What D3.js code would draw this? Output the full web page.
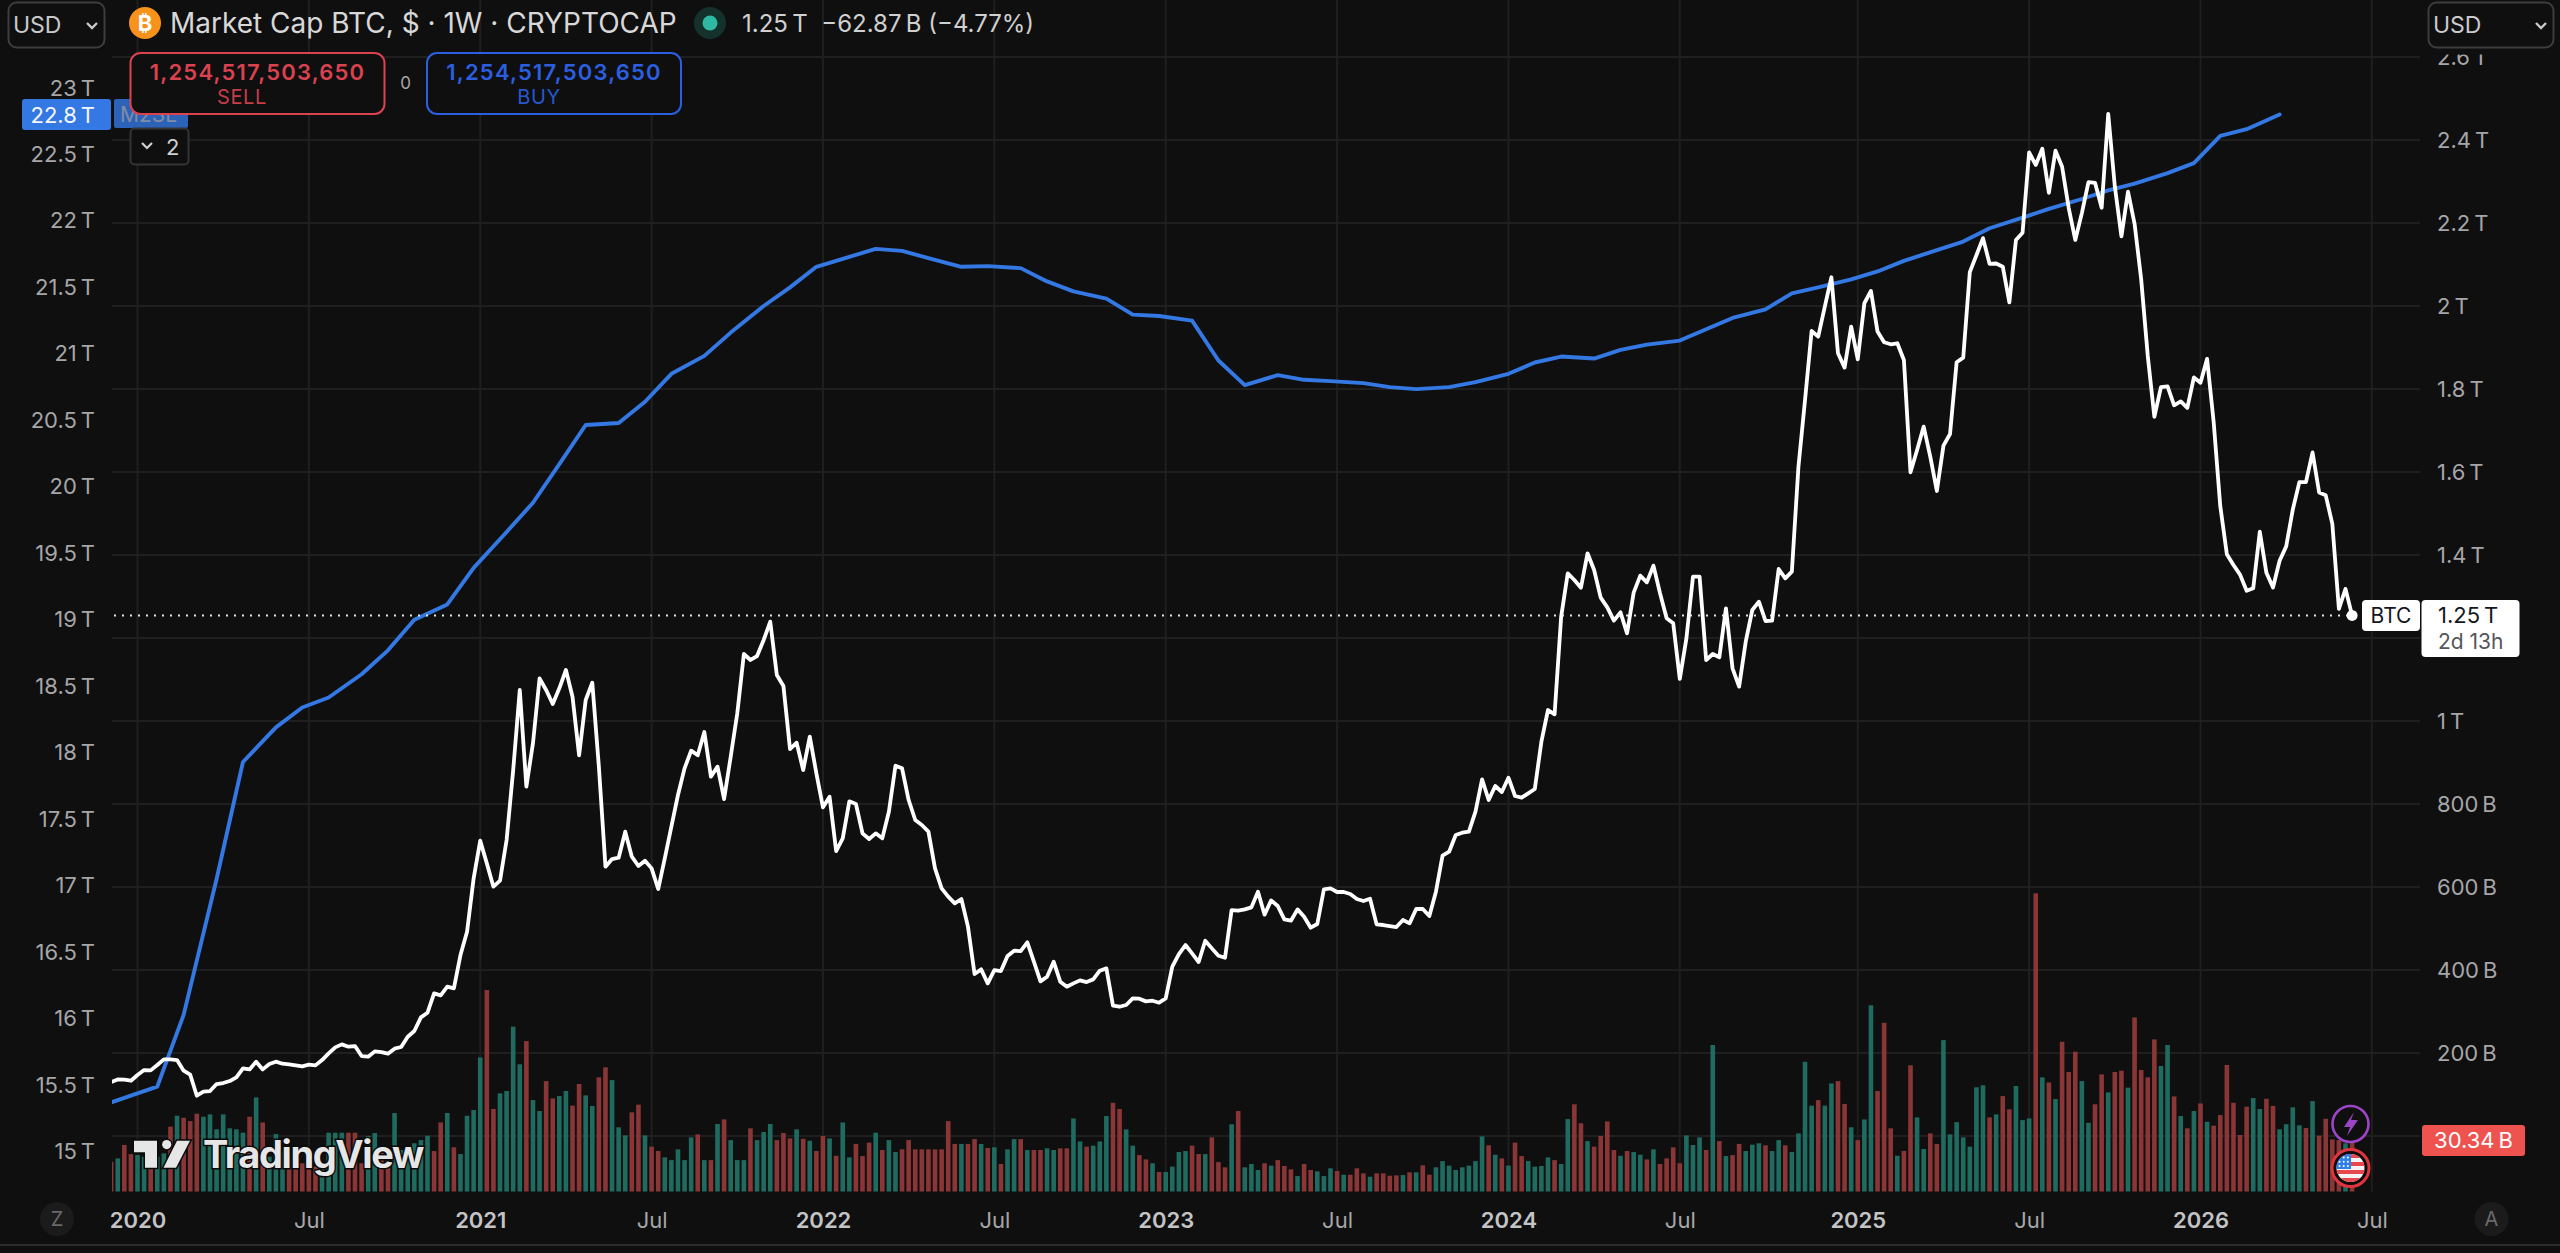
<!DOCTYPE html>
<html>
<head>
<meta charset="utf-8">
<title>Market Cap BTC</title>
<script src="https://cdn.jsdelivr.net/npm/d3@7/dist/d3.min.js"></script>
<style>
  html, body { margin: 0; padding: 0; background: #0f0f10; overflow: hidden; }
  svg { display: block; font-family: Inter, "Noto Sans", sans-serif; }
  text { font-family: Inter, "Noto Sans", sans-serif; }
</style>
</head>
<body>
<div id="chart"></div>
<script>
// Weekly Bitcoin market cap in billions of dollars, first week is 2019-12-09.
const btcCap = [
  130.0,136.4,135.6,133.2,146.9,158.9,158.1,171.0,184.6,184.6,
  183.0,157.3,147.7,97.1,106.7,108.3,125.2,127.6,132.4,141.3,
  163.0,160.5,179.1,160.5,173.4,179.1,174.2,172.6,170.2,167.8,
  171.8,170.2,183.0,199.1,213.6,220.8,215.2,216.8,192.7,191.1,
  203.9,202.3,198.3,210.4,214.4,239.3,252.9,285.9,297.1,343.7,
  338.9,359.8,355.8,436.1,492.3,620.9,711.6,657.0,600.8,615.2,
  713.2,881.9,1074.7,841.8,946.2,1102.8,1074.7,1041.0,1078.7,1122.9,
  1058.6,917.3,1050.6,1092.4,890.0,649.0,667.4,670.6,733.3,673.0,
  650.6,663.4,644.9,595.1,669.0,745.3,821.7,885.9,928.5,917.3,
  973.5,865.9,890.0,812.0,914.0,1018.5,1161.5,1147.0,1156.6,1195.2,
  1239.4,1110.9,1084.3,932.5,947.8,881.9,962.2,874.0,792.0,817.6,
  686.7,717.2,806.4,800.0,729.3,715.6,729.3,717.2,781.5,892.4,
  885.9,809.6,761.4,749.4,733.3,644.9,596.7,576.7,560.6,571.0,
  504.4,390.3,401.5,367.8,399.9,397.5,433.7,446.5,445.7,466.6,
  420.0,372.6,383.8,420.0,371.8,359.8,367.8,375.0,371.0,377.4,
  398.3,403.9,314.0,311.5,315.6,331.6,330.8,324.4,326.0,321.2,
  331.6,408.0,438.5,460.2,440.1,419.2,470.6,452.1,434.4,429.6,
  544.5,542.9,546.1,550.9,588.7,533.3,567.8,554.2,522.0,518.8,
  546.1,528.4,502.0,510.8,594.3,596.7,587.9,587.9,583.1,571.0,
  566.2,571.8,510.0,508.4,506.0,503.5,520.4,512.4,547.0,547.0,
  530.1,588.7,675.4,685.1,725.3,730.9,733.3,781.5,859.4,809.6,
  843.3,828.9,863.4,819.3,815.2,825.7,836.1,950.2,1026.5,1016.1,
  1251.5,1355.9,1339.8,1321.3,1404.1,1364.0,1297.3,1273.9,1241.8,1261.9,
  1211.3,1309.3,1350.3,1334.2,1374.4,1307.7,1247.4,1235.4,1101.3,1199.2,
  1347.9,1347.9,1147.0,1161.5,1153.5,1271.5,1127.0,1082.8,1191.2,1267.5,
  1287.6,1241.0,1241.8,1366.3,1343.8,1359.9,1613.0,1773.6,1939.9,1926.2,
  1998.5,2069.2,1886.1,1851.5,1950.3,1871.6,2006.6,2036.3,1938.3,1912.6,
  1907.8,1910.2,1870.0,1599.3,1653.1,1709.4,1637.1,1554.3,1663.6,1691.7,
  1864.4,1875.6,2081.7,2122.2,2163.5,2101.5,2102.4,2094.7,2008.6,2159.2,
  2176.4,2370.1,2339.9,2378.7,2272.8,2374.4,2335.6,2236.7,2159.2,2223.8,
  2298.6,2296.9,2236.7,2463.0,2288.3,2167.8,2275.4,2198.0,2064.5,1879.5,
  1733.2,1804.6,1806.3,1760.7,1770.2,1754.7,1827.8,1814.9,1872.6,1720.3,
  1518.0,1401.8,1376.0,1352.7,1314.0,1320.0,1456.0,1357.0,1321.7,1386.3,
  1420.7,1509.4,1575.7,1575.7,1647.1,1550.7,1543.8,1475.0,1270.1,1318.3,
  1254.5
];

// Weekly traded volume in billions of dollars, same weeks as btcCap.
const volume = [
  17.8,19.8,27.8,22.4,21.8,20.8,16.9,20.8,22.8,38.7,
  45.2,44.0,42.0,46.4,44.6,46.0,37.1,46.0,37.7,37.1,
  35.1,44.6,56.1,41.2,20.8,34.3,23.8,18.8,19.8,16.9,
  20.8,14.9,16.9,35.1,35.1,35.1,35.1,35.1,16.9,33.1,
  34.9,24.8,20.8,46.8,24.8,24.8,28.8,30.7,33.3,24.2,
  41.2,46.8,26.4,22.4,45.2,48.6,79.9,120.0,49.2,58.5,
  59.9,98.2,75.8,89.6,54.5,48.0,65.8,55.5,56.9,59.9,
  51.2,64.1,57.3,51.0,68.0,74.0,66.4,38.3,33.5,47.2,
  51.8,33.5,26.8,24.2,20.4,18.8,25.2,18.8,32.3,34.1,
  18.8,18.8,40.3,43.0,30.7,18.8,18.8,37.7,30.7,35.5,
  40.3,30.7,34.9,31.7,37.1,31.5,30.3,24.2,33.1,31.7,
  21.4,41.2,20.4,28.4,21.2,29.2,35.1,24.8,30.7,23.6,
  25.2,30.7,25.2,25.2,25.2,25.2,25.2,42.0,28.4,28.4,
  28.4,31.3,28.4,26.0,26.4,16.5,25.2,31.3,31.3,24.8,
  24.8,24.8,25.8,24.8,25.8,25.8,43.6,29.9,26.8,27.4,
  29.9,45.0,52.9,49.2,37.1,27.4,21.8,19.2,16.9,11.7,
  11.7,14.9,23.6,24.2,27.4,22.4,22.4,32.3,17.6,14.5,
  40.1,48.0,14.5,16.5,12.9,16.9,15.5,18.8,15.3,13.3,
  9.3,16.5,12.9,12.1,9.3,13.9,12.3,10.1,10.1,13.9,
  10.9,8.9,10.9,10.9,9.5,9.7,9.9,11.5,11.5,15.7,
  10.1,14.5,18.2,15.5,12.9,14.5,15.5,18.2,32.9,27.6,
  22.0,19.8,15.5,29.2,21.2,18.2,14.9,15.3,20.4,18.8,
  16.5,43.2,52.0,40.7,30.1,26.8,33.1,41.8,24.8,21.4,
  24.2,23.6,22.0,19.2,25.2,16.5,19.8,26.4,16.9,33.5,
  27.8,32.3,24.8,87.3,30.1,21.2,21.8,28.4,24.2,28.0,
  28.8,27.6,24.2,30.7,27.6,23.6,34.7,77.3,51.2,54.5,
  51.2,64.4,65.8,52.2,38.3,30.7,43.0,110.9,59.9,100.5,
  37.7,21.4,24.2,75.2,44.2,25.4,34.7,28.4,90.2,34.1,
  41.4,32.3,26.8,62.1,63.3,44.2,46.0,56.9,49.0,62.9,
  42.6,43.6,177.5,68.0,65.0,55.1,89.2,71.2,83.3,65.8,
  41.0,52.0,69.8,59.1,71.2,72.0,61.9,103.7,72.4,68.0,
  90.6,74.8,87.3,56.7,45.0,37.7,48.0,52.5,41.6,39.3,
  45.6,75.4,52.9,33.7,50.6,55.7,49.2,55.3,51.0,37.1,
  40.1,50.2,39.5,37.9,53.9,33.3,43.4,31.1,30.7,28.8,
  30.34
];

// Candle direction of each volume bar: G closed up, R closed down.
const volumeDirection = (
  "RGRRGGRGGR" + "GRRRGGGGGG" + "GRGRGGGRRR" + "RRGGGGRRRG" +
  "GRRGGGGGGR" + "RGRGGGGRRG" + "GGGRGGRRGG" + "RRGGRRGGGR" +
  "RGRRGGGGGR" + "GRGRGGGRGG" + "GRRRGRGRRG" + "RGGRRRGRGG" +
  "RRRRRRRRRG" + "RRGRGRGGRG" + "RRGGRRGGRG" + "GGRRGGRRGR" +
  "GGGGRRGRRR" + "GRGGGRGRRR" + "GRRGGGRGRR" + "RGRRRRGRGR" +
  "RGGGGGGGGR" + "GRGRRGGGGR" + "GGRRGRRRRG" + "RGGRGRRRRG" +
  "GGRGRGRRGG" + "GRGGRGGGGR" + "GGRRGRGGRR" + "RGRRGGRRGG" +
  "GGGGGRGRRG" + "GGRGRGRRRG" + "GRRGRRGRRR" + "RGGRGRGRGR" +
  "RRRRRGGRRG" + "GGGRGRRRRGR"
).split("");

// US M2 money supply in trillions of dollars, one value per month from 2019-12.
const m2Supply = [
  15.335,
  15.42,15.488,16.028,17.05,17.93,18.19,18.34,18.415,18.59,18.77,19.0,19.115,
  19.39,19.66,19.88,20.17,20.465,20.48,20.64,20.85,20.985,21.16,21.36,21.5,
  21.655,21.73,21.79,21.775,21.72,21.655,21.66,21.645,21.545,21.47,21.415,21.295,
  21.285,21.25,20.95,20.765,20.84,20.805,20.795,20.78,20.75,20.735,20.75,20.787,
  20.85,20.935,20.98,20.965,21.03,21.07,21.1,21.185,21.27,21.335,21.455,21.5,
  21.56,21.62,21.7,21.78,21.845,21.945,22.025,22.09,22.165,22.23,22.28,22.36,
  22.435,22.64,22.69,22.8
];

const leftTicks = [15,15.5,16,16.5,17,17.5,18,18.5,19,19.5,20,20.5,21,21.5,22,22.5,23];
const rightGrid = [0,200,400,600,800,1000,1200,1400,1600,1800,2000,2200,2400,2600];
const rightLabels = [200,400,600,800,1000,1400,1600,1800,2000,2200,2400,2600];
const yearTicks = [2020,2021,2022,2023,2024,2025,2026];
const julyTicks = [2020,2021,2022,2023,2024,2025,2026];

const width = 2560, height = 1253;
const bg = "#0f0f10";
const paneLeft = 112, paneRight = 2420, paneBottom = 1191.7;
const upColor = "#1f6b60", downColor = "#8a3636";
const axisColor = "#a6a6a8";

const firstWeek = new Date(Date.UTC(2019, 11, 9));
const weeks = d3.utcMonday.range(firstWeek, new Date(Date.UTC(2026, 5, 16)));
const months = d3.utcMonth.range(new Date(Date.UTC(2019, 11, 1)), new Date(Date.UTC(2026, 4, 1)));

// Every week has the same width, so the time scale is pinned to two Mondays.
const x = d3.scaleUtc()
  .domain([new Date(Date.UTC(2020, 0, 6)), new Date(Date.UTC(2026, 0, 5))])
  .range([137.5, 2200.5]);
const yCap = d3.scaleLinear().domain([0, 2400]).range([1136, 140]);
const yM2 = d3.scaleLinear().domain([15, 23]).range([1151.5, 88]);
const yVol = d3.scaleLinear().domain([0, 177.3]).range([paneBottom, 893.7]);

const svg = d3.select("#chart").append("svg")
  .attr("width", width).attr("height", height)
  .attr("viewBox", `0 0 ${width} ${height}`);
svg.append("rect").attr("width", width).attr("height", height).attr("fill", bg);

const defs = svg.append("defs");
defs.append("clipPath").attr("id", "pane").append("rect")
  .attr("x", paneLeft).attr("y", 0)
  .attr("width", paneRight - paneLeft).attr("height", paneBottom);
defs.append("clipPath").attr("id", "flagClip").append("circle")
  .attr("cx", 2350.5).attr("cy", 1168).attr("r", 14);

// Grid
const firstMonday = y => d3.utcMonday.ceil(new Date(Date.UTC(y, 0, 1)));
const firstJulyMonday = y => d3.utcMonday.ceil(new Date(Date.UTC(y, 6, 1)));
const timeTicks = yearTicks.map(firstMonday).concat(julyTicks.map(firstJulyMonday));

const grid = svg.append("g").attr("stroke", "#1f1f20").attr("stroke-width", 2);
grid.selectAll("line.v").data(timeTicks).join("line")
  .attr("x1", d => x(d)).attr("x2", d => x(d))
  .attr("y1", 0).attr("y2", paneBottom);
grid.selectAll("line.h").data(rightGrid).join("line")
  .attr("x1", paneLeft).attr("x2", paneRight)
  .attr("y1", d => yCap(d)).attr("y2", d => yCap(d));

// Volume bars
const plot = svg.append("g").attr("clip-path", "url(#pane)");
plot.selectAll("rect.vol").data(volume).join("rect")
  .attr("class", "vol")
  .attr("x", (d, i) => x(weeks[i]) - 2.3)
  .attr("width", 4.6)
  .attr("y", d => yVol(d))
  .attr("height", d => paneBottom - yVol(d))
  .attr("fill", (d, i) => volumeDirection[i] === "G" ? upColor : downColor);

// Axes
function styleAxis(g) {
  g.select(".domain").remove();
  g.selectAll(".tick line").remove();
  g.selectAll("text").attr("fill", axisColor).attr("font-size", 22)
    .attr("font-family", "Inter, 'Noto Sans', sans-serif");
}
const fmtLeft = d => `${d}\u202fT`;
const fmtRight = d => d >= 1000 ? `${d / 1000}\u202fT` : `${d}\u202fB`;

svg.append("g").attr("transform", "translate(95,0)")
  .call(d3.axisLeft(yM2).tickValues(leftTicks).tickFormat(fmtLeft).tickSize(0).tickPadding(0))
  .call(styleAxis);

svg.append("g").attr("transform", "translate(2437,0)")
  .call(d3.axisRight(yCap).tickValues(rightLabels).tickFormat(fmtRight).tickSize(0).tickPadding(0))
  .call(styleAxis);
// The axis label area ends just under the currency selector.
svg.append("rect").attr("x", 2424).attr("y", 0).attr("width", 136).attr("height", 54.5).attr("fill", bg);

const isYear = d => d.getUTCMonth() === 0;
const timeAxis = d3.axisBottom(x).tickValues(timeTicks)
  .tickFormat(d => isYear(d) ? String(d.getUTCFullYear()) : "Jul").tickSize(0).tickPadding(0);
svg.append("g").attr("transform", "translate(0,1212)")
  .call(timeAxis).call(styleAxis)
  .selectAll(".tick text")
  .attr("fill", d => isYear(d) ? "#c4c4c6" : axisColor)
  .attr("font-weight", d => isYear(d) ? 600 : 400);

// Series
const m2Line = d3.line().x((d, i) => x(d3.utcMonday.floor(months[i]))).y(d => yM2(d));
plot.append("path").datum(m2Supply)
  .attr("fill", "none").attr("stroke", "#3478e4").attr("stroke-width", 3.9)
  .attr("stroke-linejoin", "round").attr("stroke-linecap", "round")
  .attr("d", m2Line);

const capLine = d3.line().x((d, i) => x(weeks[i])).y(d => yCap(d));
plot.append("path").datum(btcCap)
  .attr("fill", "none").attr("stroke", "#ffffff").attr("stroke-width", 3.8)
  .attr("stroke-linejoin", "round")
  .attr("d", capLine);

const lastX = x(weeks[weeks.length - 1]);
const lastY = yCap(btcCap[btcCap.length - 1]);
svg.append("line").attr("x1", paneLeft + 2).attr("x2", lastX - 4)
  .attr("y1", lastY).attr("y2", lastY)
  .attr("stroke", "#e8e8e8").attr("stroke-width", 2)
  .attr("stroke-dasharray", "2 6");
svg.append("circle").attr("cx", lastX).attr("cy", lastY).attr("r", 5.5).attr("fill", "#ffffff");

// Watermark
const wm = svg.append("g").attr("fill", "#e6e6e6").attr("stroke", "#0b0b0b").attr("stroke-width", 3)
  .attr("paint-order", "stroke");
wm.append("path").attr("d", "M134 1140.7H157V1167.7H145V1152.3H134Z");
wm.append("circle").attr("cx", 166.7).attr("cy", 1144.6).attr("r", 4.6);
wm.append("path").attr("d", "M177 1140.7H190L176 1167.7H163.5Z");
wm.append("text").attr("x", 203).attr("y", 1168).attr("font-size", 38).attr("font-weight", 700)
  .attr("letter-spacing", -1.4).text("TradingView");

// Header: selector, symbol and last values
function selector(left, w) {
  const g = svg.append("g");
  g.append("rect").attr("x", left + 0.5).attr("y", 2.5).attr("width", w).attr("height", 45).attr("rx", 8)
    .attr("fill", bg).attr("stroke", "#3d3d3f").attr("stroke-width", 2);
  g.append("text").attr("x", left + 5).attr("y", 33).attr("font-size", 23).attr("fill", "#c9c9cb").text("USD");
  g.append("path").attr("d", `M${left + w - 17} 23l5 5l5 -5`).attr("fill", "none")
    .attr("stroke", "#c9c9cb").attr("stroke-width", 2.4);
}
selector(8, 96);
selector(2428, 125);

const head = svg.append("g");
head.append("circle").attr("cx", 145).attr("cy", 23).attr("r", 16).attr("fill", "#f7931a");
head.append("text").attr("x", 145).attr("y", 31).attr("text-anchor", "middle").attr("font-size", 22)
  .attr("font-weight", 700).attr("fill", "#fff").attr("font-family", "'DejaVu Sans', sans-serif").text("\u20bf");
head.append("text").attr("x", 170).attr("y", 33).attr("font-size", 28).attr("fill", "#d8d8d9")
  .text("Market Cap BTC, $ \u00b7 1W \u00b7 CRYPTOCAP");
head.append("circle").attr("cx", 710).attr("cy", 23).attr("r", 16).attr("fill", "#15312c");
head.append("circle").attr("cx", 710).attr("cy", 23).attr("r", 7.5).attr("fill", "#2fb9a2");
head.append("text").attr("x", 742).attr("y", 32).attr("font-size", 24).attr("fill", "#d0d0d1")
  .text("1.25\u202fT  \u221262.87\u202fB (\u22124.77%)").style("white-space", "pre");

// Study legend tag behind the order buttons
svg.append("rect").attr("x", 22).attr("y", 99).attr("width", 89).attr("height", 31).attr("rx", 3).attr("fill", "#3478e4");
svg.append("text").attr("x", 95).attr("y", 123).attr("text-anchor", "end").attr("font-size", 22).attr("fill", "#f4f7ff").text("22.8\u202fT");
svg.append("rect").attr("x", 114).attr("y", 99).attr("width", 74).attr("height", 29).attr("rx", 2).attr("fill", "#2c62b8");
svg.append("text").attr("x", 120).attr("y", 122).attr("font-size", 21).attr("fill", "#7f8ea6").text("M2SL");

// Order buttons
function orderButton(left, color, label, labelX) {
  svg.append("rect").attr("x", left).attr("y", 53).attr("width", 254).attr("height", 61).attr("rx", 10)
    .attr("fill", bg).attr("stroke", color).attr("stroke-width", 2);
  svg.append("text").attr("x", left + 127).attr("y", 80).attr("text-anchor", "middle").attr("font-size", 22)
    .attr("font-weight", 600).attr("letter-spacing", 1.2).attr("fill", color).text("1,254,517,503,650");
  svg.append("text").attr("x", labelX).attr("y", 104).attr("text-anchor", "middle").attr("font-size", 20)
    .attr("letter-spacing", 0.6).attr("fill", color).attr("opacity", 0.9).text(label);
}
orderButton(130.5, "#d9424e", "SELL", 242);
orderButton(427, "#2b5fe0", "BUY", 539);
svg.append("text").attr("x", 405.5).attr("y", 89).attr("text-anchor", "middle").attr("font-size", 17)
  .attr("fill", "#a8a8a8").text("0");

// Collapsed studies counter
svg.append("rect").attr("x", 130.5).attr("y", 128.5).attr("width", 58).attr("height", 36).attr("rx", 4)
  .attr("fill", bg).attr("stroke", "#343436").attr("stroke-width", 2);
svg.append("path").attr("d", "M142 143l5 5l5 -5").attr("fill", "none").attr("stroke", "#d0d0d1").attr("stroke-width", 2.2);
svg.append("text").attr("x", 166).attr("y", 155).attr("font-size", 22).attr("fill", "#d0d0d1").text("2");

// Last price tags
svg.append("rect").attr("x", 2362).attr("y", 600).attr("width", 58).attr("height", 31).attr("rx", 4).attr("fill", "#fff");
svg.append("text").attr("x", 2391).attr("y", 623).attr("text-anchor", "middle").attr("font-size", 21).attr("fill", "#131722").text("BTC");
svg.append("rect").attr("x", 2421.5).attr("y", 600).attr("width", 98).attr("height", 57).attr("rx", 4).attr("fill", "#fff");
svg.append("text").attr("x", 2438).attr("y", 623).attr("font-size", 22).attr("fill", "#131722").text("1.25\u202fT");
svg.append("text").attr("x", 2438).attr("y", 649).attr("font-size", 21).attr("fill", "#55565a").text("2d 13h");

svg.append("rect").attr("x", 2422).attr("y", 1125).attr("width", 103).attr("height", 31).attr("rx", 3).attr("fill", "#ef5350");
svg.append("text").attr("x", 2473.5).attr("y", 1148).attr("text-anchor", "middle").attr("font-size", 22).attr("fill", "#fff")
  .text(`${volume[volume.length - 1].toFixed(2)}\u202fB`);

// Event markers
svg.append("circle").attr("cx", 2350.5).attr("cy", 1124).attr("r", 18).attr("fill", bg).attr("stroke", "#9b45c6").attr("stroke-width", 2.6);
svg.append("path").attr("d", "M2354 1112L2344 1127H2350L2347 1136L2358 1120H2351Z").attr("fill", "#9b45c6");

svg.append("circle").attr("cx", 2350.5).attr("cy", 1168).attr("r", 18.5).attr("fill", "#0c0c0c").attr("stroke", "#e0343e").attr("stroke-width", 3);
const flag = svg.append("g").attr("clip-path", "url(#flagClip)");
flag.append("rect").attr("x", 2336).attr("y", 1154).attr("width", 29).attr("height", 28).attr("fill", "#f4f4f4");
[0, 2, 4, 6].forEach(k => {
  flag.append("rect").attr("x", 2336).attr("y", 1154 + k * 4).attr("width", 29).attr("height", 4).attr("fill", "#e8474f");
});
flag.append("rect").attr("x", 2336).attr("y", 1154).attr("width", 15).attr("height", 15).attr("fill", "#2f7fe8");
d3.range(3).forEach(r => d3.range(3).forEach(c => {
  flag.append("circle").attr("cx", 2339.5 + c * 4.2).attr("cy", 1157.5 + r * 4.2).attr("r", 1).attr("fill", "#fff");
}));

// Corner buttons
[[57, "Z"], [2491.5, "A"]].forEach(([cx, t]) => {
  svg.append("circle").attr("cx", cx).attr("cy", 1219).attr("r", 17).attr("fill", "#1b1b1c");
  svg.append("text").attr("x", cx).attr("y", 1226).attr("text-anchor", "middle").attr("font-size", 20).attr("fill", "#6a6a6c").text(t);
});

// Bottom separator
svg.append("line").attr("x1", 0).attr("x2", width).attr("y1", 1245).attr("y2", 1245)
  .attr("stroke", "#2b2b2c").attr("stroke-width", 2);
</script>
</body>
</html>
